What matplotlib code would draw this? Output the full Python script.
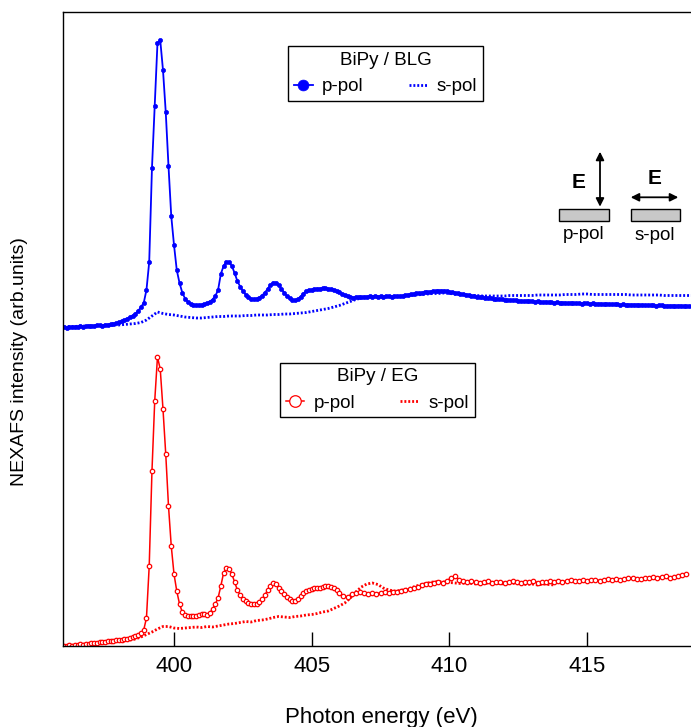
import numpy as np
import matplotlib
matplotlib.use('Agg')
import matplotlib.pyplot as plt
from matplotlib.patches import Rectangle, FancyArrowPatch

plt.rcParams['font.family'] = ['Liberation Sans', 'DejaVu Sans']

# ---------------- data (photon energy in eV, intensity in arb. units) ----------------
E_blg_p = np.linspace(396.0, 418.7, 228)
I_blg_p = np.array([
    0, -0.5, 0.5, 0, 0.5, 0.5, 1, 0.5, 1, 1.5,
    1, 1.5, 2, 2, 1.5, 2.5, 2.5, 3, 3.5, 4,
    5, 6, 7, 8.5, 10, 11.5, 13.5, 16, 20, 24,
    37, 65, 159, 221, 284, 287, 257, 215, 161, 111,
    82, 57, 44, 34.5, 28.5, 25.5, 23.5, 22.5, 22, 22,
    22.5, 23, 24, 25.5, 27.5, 31, 37, 53, 61, 65,
    65, 61, 54, 46, 40.5, 36, 32.5, 30, 28.5, 28,
    28.5, 29.5, 31.5, 34.5, 38, 42, 44.5, 44.5, 42, 38,
    34.5, 31, 29, 27.5, 27, 28, 30.5, 33.5, 36, 37,
    37.5, 38, 38.5, 38.5, 39, 39, 38.5, 38, 37.5, 36,
    35, 33.5, 32, 31, 30, 29.5, 30, 30.5, 30, 30.5,
    30.5, 31, 30.5, 31, 30.5, 31, 30.5, 31, 31, 30.5,
    31, 31, 31, 31.5, 32, 32.5, 33, 33.5, 34, 34,
    34.5, 35, 35, 35.5, 36, 36, 36.5, 36.5, 36.5, 36,
    35.5, 35, 34.5, 34, 33.5, 33, 32.5, 32, 31.5, 31,
    30.5, 30.5, 30, 29.5, 29.5, 29, 28.5, 28.5, 28, 28,
    27.5, 27.5, 27, 27, 27, 26.5, 26.5, 26, 26.5, 26,
    26, 25.5, 26, 25.5, 25, 25.5, 25, 25, 24.5, 25,
    24.5, 24.5, 24.5, 24, 24.5, 24, 24, 24, 23.5, 24,
    24, 23.5, 24, 23.5, 23.5, 23.5, 23, 23.5, 23, 23,
    23, 23, 22.5, 23, 22.5, 22.5, 22.5, 22.5, 22.5, 22,
    22.5, 22, 22, 22, 22, 21.5, 22, 22, 21.5, 21.5,
    21.5, 21.5, 21, 21.5, 21.5, 21, 21, 21,
])

E_blg_s = np.linspace(396.0, 418.8, 115)
I_blg_s = np.array([
    0, 0.5, 0.5, 1, 1, 1, 1.5, 1.5, 1.5, 2,
    2, 2.5, 3, 3.5, 4.5, 7, 11, 15, 13.5, 12.5,
    12, 11, 10, 9.5, 9, 9, 9.5, 10, 10.5, 10.5,
    11, 11, 11, 11.5, 11.5, 12, 12, 12, 12.5, 12.5,
    13, 13, 13.5, 14, 14.5, 15.5, 16.5, 17.5, 18.5, 20,
    21.5, 23.5, 25.5, 27.5, 29, 30, 30, 30.5, 30.5, 30.5,
    30.5, 30.5, 31, 31.5, 32, 32.5, 33, 33.5, 33.5, 34,
    33.5, 33, 32.5, 32, 31.5, 31.5, 31, 31, 31, 31,
    31, 31.5, 31.5, 31.5, 31.5, 31.5, 32, 32, 32, 32,
    32, 32.5, 32.5, 32.5, 33, 33, 32.5, 32.5, 32.5, 32.5,
    32.5, 32.5, 32.5, 32, 32, 32, 32, 32, 32, 31.5,
    31.5, 31.5, 31.5, 31.5, 31.5,
])

E_eg_p = np.concatenate([np.linspace(396.0, 406.0, 101), np.linspace(406.15, 418.6, 84)])
I_eg_p = np.array([
    0, 0.5, 1, 0.5, 1.5, 1, 2, 1.5, 2.5, 2,
    3, 3.5, 3, 4, 4, 4.5, 5, 5, 5.5, 6,
    6, 6.5, 7, 7.5, 8, 9, 10, 11, 13, 16,
    28, 80, 175, 245, 289, 277, 237, 192, 140, 100,
    72, 55, 42, 34, 31, 30, 30, 30, 30.5, 31,
    32, 32.5, 31, 33, 37, 42, 48, 60, 73, 78,
    77, 72, 64, 56, 51, 47, 45, 43, 42.5, 42,
    42.5, 44, 47, 51, 56, 60, 63, 62, 58, 55,
    52, 49, 47, 45.5, 45, 47, 50, 53, 55, 56.5,
    57.5, 58, 58, 58.5, 59, 60, 60, 59, 58, 56,
    53,
    50, 49, 52, 53, 54, 53.5, 52, 53, 52.5, 53,
    54, 53.5, 54, 54.5, 55, 56, 57.5, 58, 59.5, 61,
    62, 62.5, 63, 64, 63.5, 65, 68, 70, 66, 65,
    64.5, 65.5, 64, 63.5, 64, 65, 63.5, 64, 64.5, 63.5,
    64, 65, 64, 63.5, 64.5, 64, 65, 63.5, 64.5, 64,
    65, 64.5, 65.5, 64, 65, 66, 65, 65.5, 66, 65.5,
    66, 66.5, 65.5, 66, 67, 66.5, 67, 66, 67.5, 68,
    68, 67, 67.5, 68.5, 68, 69, 68, 69.5, 70, 68.5,
    69.5, 70, 71, 72,
])

E_eg_s = np.linspace(396.0, 413.8, 90)
I_eg_s = np.array([
    0, 0.5, 1, 1.5, 2, 2.5, 3, 3.5, 4, 4.5,
    5, 5.5, 6, 7, 9, 11.5, 14, 17, 19.5, 19.5,
    18, 17.5, 18, 18.5, 19, 18.5, 19.5, 19, 20, 21,
    22, 22.5, 23.5, 24.5, 24, 25.5, 26, 27, 28.5, 29.5,
    29, 28.5, 29.5, 30, 31, 31.5, 32.5, 34, 35, 37.5,
    40, 43, 48, 54, 59, 62, 63, 61.5, 58, 56,
    55, 55.5, 56.5, 58, 60, 61.5, 63, 64, 64.5, 64,
    63.5, 63, 62.5, 63, 62.5, 62, 63, 62.5, 63, 62.5,
    62, 63, 62.5, 62, 61.5, 62, 61, 62, 61.5, 61,
])

blg_offset = 319.0
xticks = [400, 405, 410, 415]
legend_labels = ['p-pol', 's-pol']
titles = ['BiPy / BLG', 'BiPy / EG']

# ---------------- figure ----------------
W, H = 691, 727
fig = plt.figure(figsize=(W / 100, H / 100), dpi=100)
ax = fig.add_axes([63 / W, 1 - 646 / H, 628 / W, 634.5 / H])

BLUE = '#0000ff'
RED = '#ff0000'

s1, = ax.plot(E_blg_s, I_blg_s + blg_offset, color=BLUE, lw=2.0, dashes=(0.7, 0.7))
p1, = ax.plot(E_blg_p, I_blg_p + blg_offset, color=BLUE, lw=1.3, marker='o', ms=3.0,
              mfc=BLUE, mec=BLUE, mew=0.5)
s2, = ax.plot(E_eg_s, I_eg_s, color=RED, lw=2.0, dashes=(0.7, 0.7))
p2, = ax.plot(E_eg_p, I_eg_p, color=RED, lw=1.1, marker='o', ms=3.2,
              mfc='white', mec=RED, mew=0.9)

ax.set_xlim(395.97, 418.77)
ax.set_ylim(0, 634.5)
ax.set_xticks(xticks)
ax.set_xticklabels([str(t) for t in xticks])
ax.tick_params(axis='x', direction='in', length=10, width=1.0, labelsize=16, pad=7,
               top=False, colors='black')
ax.tick_params(axis='y', left=False, labelleft=False)
ax.spines['right'].set_visible(False)
for sp in ['left', 'bottom', 'top']:
    ax.spines[sp].set_linewidth(1.0)

leg_kw = dict(ncol=2, fontsize=13.5, title_fontsize=13.5, frameon=True, fancybox=False,
              framealpha=1, edgecolor='black', borderpad=0.3, handlelength=1.0,
              handletextpad=0.5, columnspacing=2.4, markerscale=2.6, loc='upper left',
              borderaxespad=0, bbox_transform=fig.transFigure)
leg1 = ax.legend([p1, s1], legend_labels, title=titles[0],
                 bbox_to_anchor=(288.3 / W, 1 - 46 / H), **leg_kw)
leg1.get_frame().set_linewidth(1.0)
ax.add_artist(leg1)
leg2 = ax.legend([p2, s2], legend_labels, title=titles[1],
                 bbox_to_anchor=(280 / W, 1 - 362.7 / H), **leg_kw)
leg2.get_frame().set_linewidth(1.0)

# ---------------- polarisation sketch ----------------
def fx(px):
    return px / W

def fy(py):
    return 1 - py / H

for x0, x1 in [(559, 609.3), (630.7, 680)]:
    fig.add_artist(Rectangle((fx(x0), fy(221)), (x1 - x0) / W, 11.7 / H,
                             transform=fig.transFigure, facecolor='#c8c8c8',
                             edgecolor='black', lw=1.0))
fig.text(fx(583.3), fy(234.5), 'p-pol', ha='center', va='center', fontsize=13.5)
fig.text(fx(655), fy(235), 's-pol', ha='center', va='center', fontsize=13.5)
fig.text(fx(579), fy(183), 'E', ha='center', va='center', fontsize=15, fontweight='bold')
fig.text(fx(655), fy(179), 'E', ha='center', va='center', fontsize=15, fontweight='bold')
arrow_kw = dict(arrowstyle='<|-|>', color='black', lw=1.3, mutation_scale=12,
                shrinkA=0, shrinkB=0)
fig.add_artist(FancyArrowPatch((fx(600), fy(151.7)), (fx(600), fy(206.7)),
                               transform=fig.transFigure, **arrow_kw))
fig.add_artist(FancyArrowPatch((fx(630.7), fy(197.3)), (fx(678.3), fy(197.3)),
                               transform=fig.transFigure, **arrow_kw))

# ---------------- axis labels ----------------
fig.text(fx(20), fy(362), 'NEXAFS intensity (arb.units)', rotation=90, ha='center',
         va='center', fontsize=14)
fig.text(fx(381.5), fy(723), 'Photon energy (eV)', ha='center', va='baseline', fontsize=16)

fig.savefig('out.png', dpi=100)
